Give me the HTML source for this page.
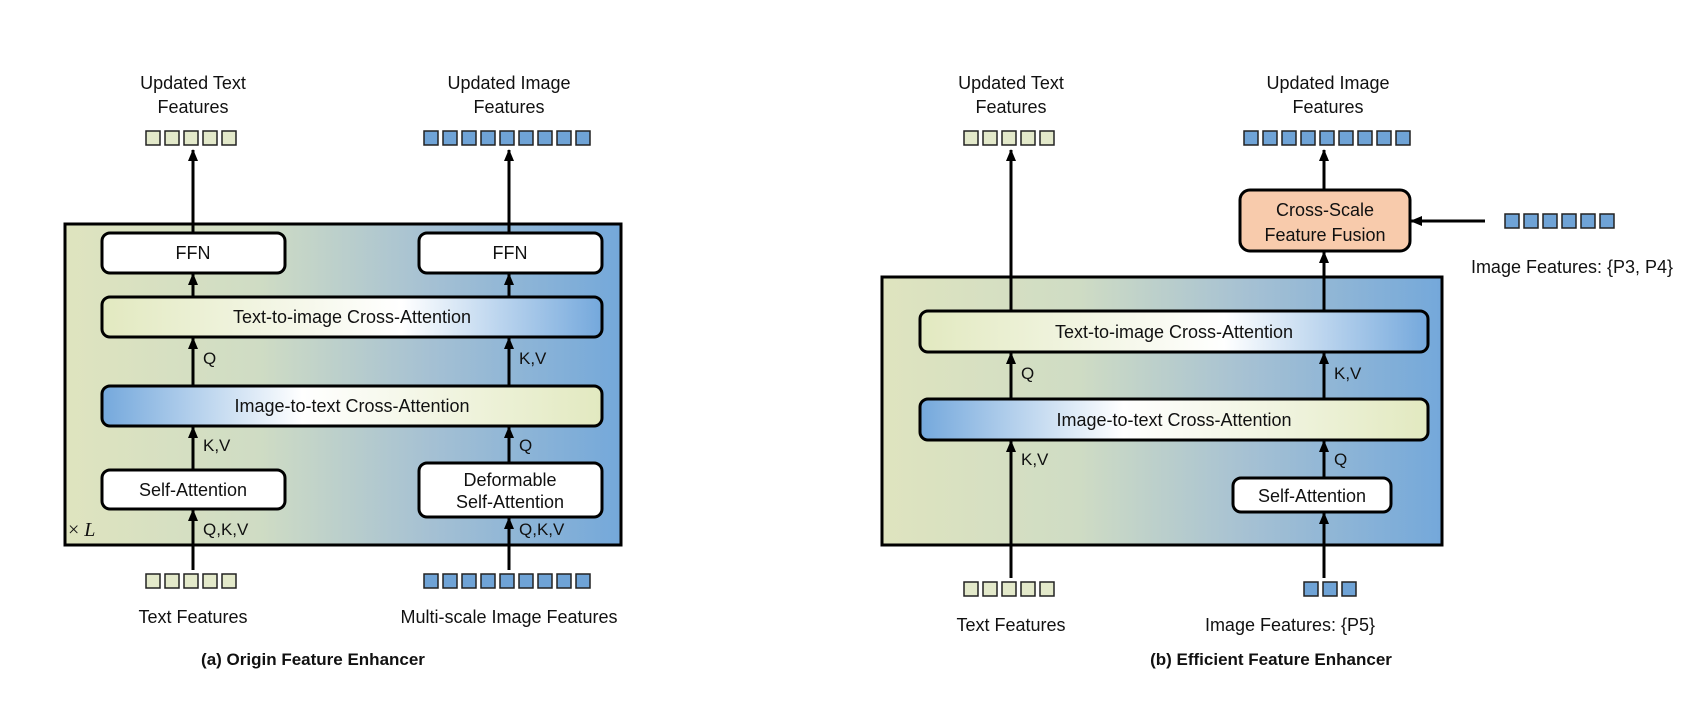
<!DOCTYPE html>
<html><head><meta charset="utf-8"><style>html,body{margin:0;padding:0;background:#fff}svg{display:block}text{font-family:"Liberation Sans",sans-serif;fill:#111}</style></head><body>
<svg width="1694" height="702" viewBox="0 0 1694 702" xmlns="http://www.w3.org/2000/svg">
<defs>
<linearGradient id="bg" x1="0" x2="1" y1="0" y2="0"><stop offset="0" stop-color="#dfe4bf"/><stop offset="0.35" stop-color="#cfdcc4"/><stop offset="0.65" stop-color="#a6c1d3"/><stop offset="1" stop-color="#74a8da"/></linearGradient>
<linearGradient id="t2i" x1="0" x2="1"><stop offset="0" stop-color="#e2e9c0"/><stop offset="0.6" stop-color="#ffffff"/><stop offset="1" stop-color="#74a8dc"/></linearGradient>
<linearGradient id="i2t" x1="0" x2="1"><stop offset="0" stop-color="#74a8dc"/><stop offset="0.4" stop-color="#ffffff"/><stop offset="1" stop-color="#e2e9c0"/></linearGradient>
<marker id="ah" markerWidth="12" markerHeight="12" refX="11" refY="6" orient="auto" markerUnits="userSpaceOnUse"><path d="M0,1 L12,6 L0,11 Z" fill="#000"/></marker>
</defs>
<g stroke="#000" stroke-width="3">
<rect x="65" y="224" width="556" height="321" fill="url(#bg)"/>
<rect x="102" y="233" width="183" height="40" rx="8" fill="#fff"/>
<rect x="419" y="233" width="183" height="40" rx="8" fill="#fff"/>
<rect x="102" y="297" width="500" height="40" rx="8" fill="url(#t2i)"/>
<rect x="102" y="386" width="500" height="40" rx="8" fill="url(#i2t)"/>
<rect x="102" y="470" width="183" height="39" rx="8" fill="#fff"/>
<rect x="419" y="463" width="183" height="54" rx="8" fill="#fff"/>
<rect x="882" y="277" width="560" height="268" fill="url(#bg)"/>
<rect x="920" y="311" width="508" height="41" rx="8" fill="url(#t2i)"/>
<rect x="920" y="399" width="508" height="41" rx="8" fill="url(#i2t)"/>
<rect x="1233" y="478" width="158" height="34" rx="8" fill="#fff"/>
<rect x="1240" y="190" width="170" height="61" rx="10" fill="#f8cbac"/>
</g>
<g stroke="#000" stroke-width="3" marker-end="url(#ah)">
<line x1="193" y1="570" x2="193" y2="510"/>
<line x1="193" y1="470" x2="193" y2="427"/>
<line x1="193" y1="386" x2="193" y2="338"/>
<line x1="193" y1="297" x2="193" y2="274"/>
<line x1="193" y1="233" x2="193" y2="150"/>
<line x1="509" y1="570" x2="509" y2="518"/>
<line x1="509" y1="463" x2="509" y2="427"/>
<line x1="509" y1="386" x2="509" y2="338"/>
<line x1="509" y1="297" x2="509" y2="274"/>
<line x1="509" y1="233" x2="509" y2="150"/>
<line x1="1011" y1="578" x2="1011" y2="441"/>
<line x1="1011" y1="399" x2="1011" y2="353"/>
<line x1="1011" y1="311" x2="1011" y2="150"/>
<line x1="1324" y1="578" x2="1324" y2="513"/>
<line x1="1324" y1="478" x2="1324" y2="441"/>
<line x1="1324" y1="399" x2="1324" y2="353"/>
<line x1="1324" y1="311" x2="1324" y2="252"/>
<line x1="1324" y1="190" x2="1324" y2="150"/>
<line x1="1485" y1="221" x2="1411" y2="221"/>
</g>
<g stroke="#222" stroke-width="1.5">
<g fill="#e3e9ca">
<rect x="146" y="131" width="14" height="14"/><rect x="165" y="131" width="14" height="14"/><rect x="184" y="131" width="14" height="14"/><rect x="203" y="131" width="14" height="14"/><rect x="222" y="131" width="14" height="14"/>
<rect x="146" y="574" width="14" height="14"/><rect x="165" y="574" width="14" height="14"/><rect x="184" y="574" width="14" height="14"/><rect x="203" y="574" width="14" height="14"/><rect x="222" y="574" width="14" height="14"/>
<rect x="964" y="131" width="14" height="14"/><rect x="983" y="131" width="14" height="14"/><rect x="1002" y="131" width="14" height="14"/><rect x="1021" y="131" width="14" height="14"/><rect x="1040" y="131" width="14" height="14"/>
<rect x="964" y="582" width="14" height="14"/><rect x="983" y="582" width="14" height="14"/><rect x="1002" y="582" width="14" height="14"/><rect x="1021" y="582" width="14" height="14"/><rect x="1040" y="582" width="14" height="14"/>
</g>
<g fill="#6fa3d6">
<rect x="424" y="131" width="14" height="14"/><rect x="443" y="131" width="14" height="14"/><rect x="462" y="131" width="14" height="14"/><rect x="481" y="131" width="14" height="14"/><rect x="500" y="131" width="14" height="14"/><rect x="519" y="131" width="14" height="14"/><rect x="538" y="131" width="14" height="14"/><rect x="557" y="131" width="14" height="14"/><rect x="576" y="131" width="14" height="14"/>
<rect x="424" y="574" width="14" height="14"/><rect x="443" y="574" width="14" height="14"/><rect x="462" y="574" width="14" height="14"/><rect x="481" y="574" width="14" height="14"/><rect x="500" y="574" width="14" height="14"/><rect x="519" y="574" width="14" height="14"/><rect x="538" y="574" width="14" height="14"/><rect x="557" y="574" width="14" height="14"/><rect x="576" y="574" width="14" height="14"/>
<rect x="1244" y="131" width="14" height="14"/><rect x="1263" y="131" width="14" height="14"/><rect x="1282" y="131" width="14" height="14"/><rect x="1301" y="131" width="14" height="14"/><rect x="1320" y="131" width="14" height="14"/><rect x="1339" y="131" width="14" height="14"/><rect x="1358" y="131" width="14" height="14"/><rect x="1377" y="131" width="14" height="14"/><rect x="1396" y="131" width="14" height="14"/>
<rect x="1505" y="214" width="14" height="14"/><rect x="1524" y="214" width="14" height="14"/><rect x="1543" y="214" width="14" height="14"/><rect x="1562" y="214" width="14" height="14"/><rect x="1581" y="214" width="14" height="14"/><rect x="1600" y="214" width="14" height="14"/>
<rect x="1304" y="582" width="14" height="14"/><rect x="1323" y="582" width="14" height="14"/><rect x="1342" y="582" width="14" height="14"/>
</g>
</g>
<g font-size="18" text-anchor="middle">
<text x="193" y="89">Updated Text</text><text x="193" y="113">Features</text>
<text x="509" y="89">Updated Image</text><text x="509" y="113">Features</text>
<text x="1011" y="89">Updated Text</text><text x="1011" y="113">Features</text>
<text x="1328" y="89">Updated Image</text><text x="1328" y="113">Features</text>
<text x="193" y="259">FFN</text><text x="510" y="259">FFN</text>
<text x="352" y="323">Text-to-image Cross-Attention</text>
<text x="352" y="412">Image-to-text Cross-Attention</text>
<text x="193" y="496">Self-Attention</text>
<text x="510" y="486">Deformable</text><text x="510" y="508">Self-Attention</text>
<text x="193" y="623">Text Features</text>
<text x="509" y="623">Multi-scale Image Features</text>
<text x="1174" y="338">Text-to-image Cross-Attention</text>
<text x="1174" y="426">Image-to-text Cross-Attention</text>
<text x="1312" y="502">Self-Attention</text>
<text x="1325" y="216">Cross-Scale</text><text x="1325" y="241">Feature Fusion</text>
<text x="1572" y="273">Image Features: {P3, P4}</text>
<text x="1011" y="631">Text Features</text>
<text x="1290" y="631">Image Features: {P5}</text>
</g>
<g font-size="17">
<text x="203" y="364">Q</text><text x="203" y="451">K,V</text><text x="203" y="535">Q,K,V</text>
<text x="519" y="364">K,V</text><text x="519" y="451">Q</text><text x="519" y="535">Q,K,V</text>
<text x="1021" y="379">Q</text><text x="1021" y="465">K,V</text>
<text x="1334" y="379">K,V</text><text x="1334" y="465">Q</text>
</g>
<text x="68" y="536" font-size="20" style="font-family:'Liberation Serif',serif">× <tspan font-style="italic">L</tspan></text>
<g font-size="17" font-weight="bold" text-anchor="middle">
<text x="313" y="665">(a) Origin Feature Enhancer</text>
<text x="1271" y="665">(b) Efficient Feature Enhancer</text>
</g>
</svg>
</body></html>
